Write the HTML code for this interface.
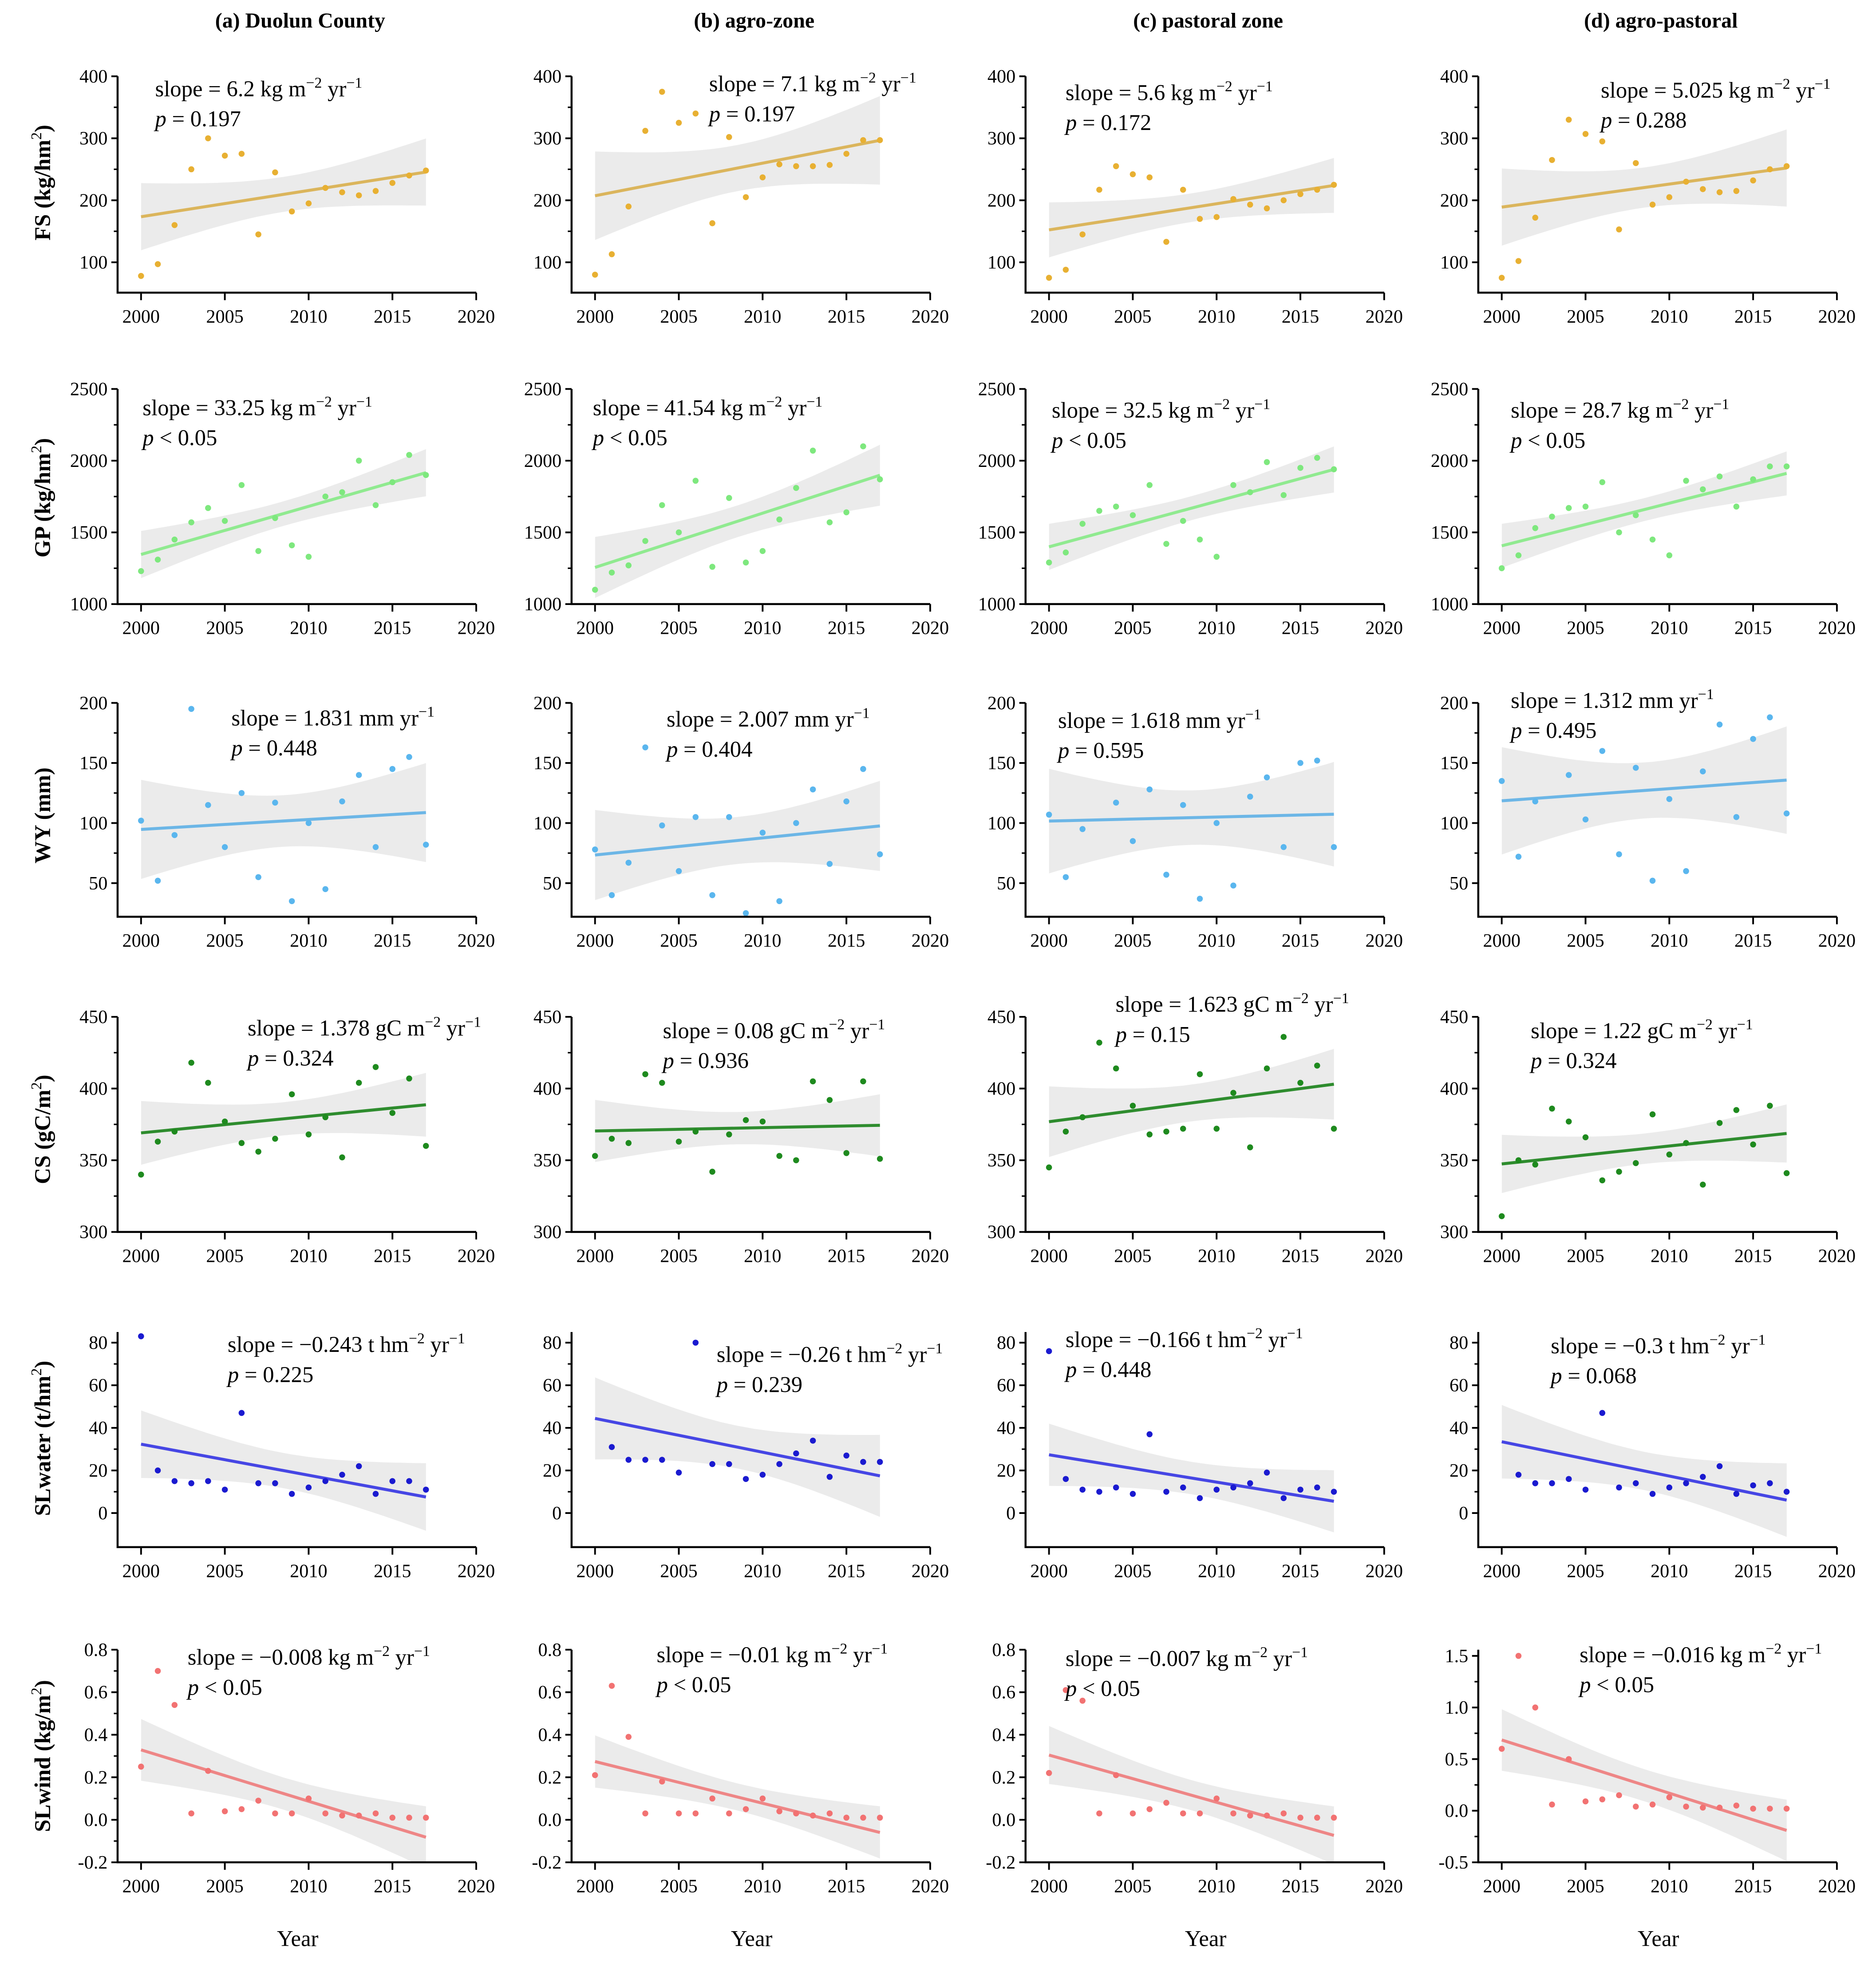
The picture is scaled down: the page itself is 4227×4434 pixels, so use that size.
<!DOCTYPE html>
<html><head><meta charset="utf-8"><style>
html,body{margin:0;padding:0;background:#fff}
svg{display:block}
text{font-family:"Liberation Serif",serif;fill:#000}
</style></head><body>
<svg id="fig" width="4227" height="4434" viewBox="0 0 1500 1573.5" xmlns="http://www.w3.org/2000/svg">
<rect width="1500" height="1573.5" fill="#fff"/>
<g id="root"></g>
</svg>
<script>
const years=[2000,2001,2002,2003,2004,2005,2006,2007,2008,2009,2010,2011,2012,2013,2014,2015,2016,2017];
const xTicks=[2000,2005,2010,2015,2020];
const colTitles=["(a) Duolun County","(b) agro-zone","(c) pastoral zone","(d) agro-pastoral"];
// Row FS
const fsA=[78,97,160,250,300,272,275,145,245,182,195,220,213,208,215,228,240,248];
const fsB=[80,113,190,312,375,325,340,163,302,205,237,258,255,255,257,275,297,297];
const fsC=[75,88,145,217,255,242,237,133,217,170,173,202,193,187,200,210,217,225];
const fsD=[75,102,172,265,330,307,295,153,260,193,205,230,218,213,215,232,250,255];
// Row GP
const gpA=[1230,1310,1450,1570,1670,1580,1830,1370,1600,1410,1330,1750,1780,2000,1690,1850,2040,1900];
const gpB=[1100,1220,1270,1440,1690,1500,1860,1260,1740,1290,1370,1590,1810,2070,1570,1640,2100,1870];
const gpC=[1290,1360,1560,1650,1680,1620,1830,1420,1580,1450,1330,1830,1780,1990,1760,1950,2020,1940];
const gpD=[1250,1340,1530,1610,1670,1680,1850,1500,1620,1450,1340,1860,1800,1890,1680,1870,1960,1960];
// Row WY
const wyA=[102,52,90,195,115,80,125,55,117,35,100,45,118,140,80,145,155,82];
const wyB=[78,40,67,163,98,60,105,40,105,25,92,35,100,128,66,118,145,74];
const wyC=[107,55,95,215,117,85,128,57,115,37,100,48,122,138,80,150,152,80];
const wyD=[135,72,118,212,140,103,160,74,146,52,120,60,143,182,105,170,188,108];
// Row CS
const csA=[340,363,370,418,404,377,362,356,365,396,368,380,352,404,415,383,407,360];
const csB=[353,365,362,410,404,363,370,342,368,378,377,353,350,405,392,355,405,351];
const csC=[345,370,380,432,414,388,368,370,372,410,372,397,359,414,436,404,416,372];
const csD=[311,350,347,386,377,366,336,342,348,382,354,362,333,376,385,361,388,341];
// Row SLwater
const swA=[83,20,15,14,15,11,47,14,14,9,12,15,18,22,9,15,15,11];
const swB=[95,31,25,25,25,19,80,23,23,16,18,23,28,34,17,27,24,24];
const swC=[76,16,11,10,12,9,37,10,12,7,11,12,14,19,7,11,12,10];
const swD=[90,18,14,14,16,11,47,12,14,9,12,14,17,22,9,13,14,10];
// Row SLwind
const slA=[0.25,0.70,0.54,0.03,0.23,0.04,0.05,0.09,0.03,0.03,0.10,0.03,0.02,0.02,0.03,0.01,0.01,0.01];
const slB=[0.21,0.63,0.39,0.03,0.18,0.03,0.03,0.10,0.03,0.05,0.10,0.04,0.03,0.02,0.03,0.01,0.01,0.01];
const slC=[0.22,0.61,0.56,0.03,0.21,0.03,0.05,0.08,0.03,0.03,0.10,0.03,0.02,0.02,0.03,0.01,0.01,0.01];
const slD=[0.60,1.50,1.00,0.06,0.50,0.09,0.11,0.15,0.04,0.06,0.13,0.04,0.03,0.03,0.05,0.02,0.02,0.02];
const ticksFS=[100,200,300,400];
const ticksGP=[1000,1500,2000,2500];
const ticksWY=[50,100,150,200];
const ticksCS=[300,350,400,450];
const ticksSW=[0,20,40,60,80];
const ticksSL=[-0.2,0.0,0.2,0.4,0.6,0.8];
const ticksSLd=[-0.5,0.0,0.5,1.0,1.5];
const slopeFS=["6.2","7.1","5.6","5.025"], pFS=["= 0.197","= 0.197","= 0.172","= 0.288"];
const slopeGP=["33.25","41.54","32.5","28.7 "], pGP=["< 0.05","< 0.05","< 0.05","< 0.05"];
const slopeWY=["1.831","2.007","1.618","1.312"], pWY=["= 0.448","= 0.404","= 0.595","= 0.495"];
const slopeCS=["1.378","0.08","1.623","1.22"], pCS=["= 0.324","= 0.936","= 0.15","= 0.324"];
const slopeSW=[" \u22120.243","\u22120.26","\u22120.166","\u22120.3"], pSW=["= 0.225","= 0.239","= 0.448","= 0.068"];
const slopeSL=["\u22120.008","\u22120.01","\u22120.007","\u22120.016"], pSL=["< 0.05","< 0.05","< 0.05","< 0.05"];

const NS="http://www.w3.org/2000/svg";
const root=document.getElementById('root');
function el(tag,attrs,parent){const e=document.createElementNS(NS,tag);for(const k in attrs)e.setAttribute(k,attrs[k]);(parent||root).appendChild(e);return e;}
const spineX=[94,457,820,1182];
const rows=[
 {name:"fs",label:["FS (kg/hm","2",")"],data:[fsA,fsB,fsC,fsD],ticks:[ticksFS,ticksFS,ticksFS,ticksFS],lim:[[51,400],[51,400],[51,400],[51,400]],pix:[234,61],dec:0,
  dot:"#e8b032",line:"#dbb55c",slope:slopeFS,p:pFS,unit:"kg",u2:true,
  pos:[[124,77],[567,73],[852,80],[1280,78]]},
 {name:"gp",label:["GP (kg/hm","2",")"],data:[gpA,gpB,gpC,gpD],ticks:[ticksGP,ticksGP,ticksGP,ticksGP],lim:[[1000,2500],[1000,2500],[1000,2500],[1000,2500]],pix:[483,311],dec:0,
  dot:"#7ee87e",line:"#90ea90",slope:slopeGP,p:pGP,unit:"kg",u2:true,
  pos:[[114,332],[474,332],[841,334],[1208,334]]},
 {name:"wy",label:["WY (mm)"],data:[wyA,wyB,wyC,wyD],ticks:[ticksWY,ticksWY,ticksWY,ticksWY],lim:[[22,200],[22,200],[22,200],[22,200]],pix:[733,562],dec:0,
  dot:"#5ab6ee",line:"#6cb6e6",slope:slopeWY,p:pWY,unit:"mm",u2:false,
  pos:[[185,580],[533,581],[846,582],[1208,566]]},
 {name:"cs",label:["CS (gC/m","2",")"],data:[csA,csB,csC,csD],ticks:[ticksCS,ticksCS,ticksCS,ticksCS],lim:[[300,450],[300,450],[300,450],[300,450]],pix:[985,813],dec:0,
  dot:"#1e8a1e",line:"#2e8c2e",slope:slopeCS,p:pCS,unit:"gC",u2:true,
  pos:[[198,828],[530,830],[892,809],[1224,830]]},
 {name:"slwater",label:["SLwater (t/hm","2",")"],data:[swA,swB,swC,swD],ticks:[ticksSW,ticksSW,ticksSW,ticksSW],lim:[[-16,85],[-16,85],[-16,85],[-16,85]],pix:[1237,1065],dec:0,
  dot:"#1a1ad0",line:"#4646e4",slope:slopeSW,p:pSW,unit:"t hm",u2:true,
  pos:[[182,1081],[573,1089],[852,1077],[1240,1082]]},
 {name:"slwind",label:["SLwind (kg/m","2",")"],data:[slA,slB,slC,slD],ticks:[ticksSL,ticksSL,ticksSL,ticksSLd],lim:[[-0.2,0.8],[-0.2,0.8],[-0.2,0.8],[-0.5,1.56]],pix:[1489,1319],dec:1,
  dot:"#f27272",line:"#ee8686",slope:slopeSL,p:pSL,unit:"kg",u2:true,
  pos:[[150,1331],[525,1329],[852,1332],[1263,1329]]}
];
const rowCenters=[146,398,652,903,1150,1404];
colTitles.forEach((t,c)=>{
  const e=el('text',{x:spineX[c]+146,y:22,'text-anchor':'middle','font-size':17,'font-weight':'bold'});
  e.textContent=t;
  
  
  const y=el('text',{x:spineX[c]+144,y:1556,'text-anchor':'middle','font-size':18});
  y.textContent="Year";
  
  
});
let cid=0;
rows.forEach((r,ri)=>{
  const lab=el('text',{transform:`translate(40,${rowCenters[ri]}) rotate(-90)`,'text-anchor':'middle','font-size':18,'font-weight':'bold'});
  
  
  const t1=el('tspan',{},lab);t1.textContent=r.label[0];
  if(r.label.length>1){const t2=el('tspan',{dy:-7,'font-size':12,'font-weight':'normal'},lab);t2.textContent=r.label[1];const t3=el('tspan',{dy:7},lab);t3.textContent=r.label[2];}
  for(let c=0;c<4;c++){
    const g=el('g',{});
    
    
    const data=r.data[c], lim=r.lim[c], [pb,pt]=r.pix;
    const x0=spineX[c];
    const xs=v=>x0+(v-1998.6)*13.4;
    const ys=v=>pb-(v-lim[0])/(lim[1]-lim[0])*(pb-pt);
    const right=xs(2020);
    cid++;
    const cp=el('clipPath',{id:'cp'+cid},g);
    el('rect',{x:x0,y:pt-4,width:right-x0+4,height:pb-pt+4},cp);
    const n=years.length;const mx=years.reduce((a,b)=>a+b)/n;const my=data.reduce((a,b)=>a+b)/n;
    let sxx=0,sxy=0;for(let i=0;i<n;i++){sxx+=(years[i]-mx)**2;sxy+=(years[i]-mx)*(data[i]-my);}
    const b=sxy/sxx,a=my-b*mx;
    let sse=0;for(let i=0;i<n;i++)sse+=(data[i]-a-b*years[i])**2;
    const s=Math.sqrt(sse/(n-2));
    let up=[],lo=[];
    for(let k=0;k<=34;k++){const x=2000+k*0.5;const h=2.12*s*Math.sqrt(1/n+(x-mx)**2/sxx);const m=a+b*x;up.push(`${xs(x).toFixed(1)},${ys(m+h).toFixed(1)}`);lo.unshift(`${xs(x).toFixed(1)},${ys(m-h).toFixed(1)}`);}
    const band=el('polygon',{points:up.concat(lo).join(' '),fill:'#ebebeb','clip-path':`url(#cp${cid})`},g);
    
    
    const ln=el('line',{x1:xs(2000),y1:ys(a+b*2000),x2:xs(2017),y2:ys(a+b*2017),stroke:r.line,'stroke-width':2.4,'clip-path':`url(#cp${cid})`},g);
    
    
    data.forEach((v,i)=>{
      const d=el('circle',{cx:xs(years[i]),cy:ys(v),r:2.4,fill:r.dot,'clip-path':`url(#cp${cid})`},g);
      
      
    });
    const ax=el('path',{d:`M${x0},${pt} V${pb} H${right}`,fill:'none',stroke:'#000','stroke-width':1.6},g);
    
    
    r.ticks[c].forEach(t=>{
      const y=ys(t);
      el('line',{x1:x0-5,y1:y,x2:x0,y2:y,stroke:'#000','stroke-width':1.4},g);
      const tl=el('text',{x:x0-8,y:y+5,'text-anchor':'end','font-size':15},g);
      tl.textContent=t.toFixed(r.dec);
      
      
    });
    const tk=r.ticks[c];
    for(let i=0;i<tk.length-1;i++){const y=ys((tk[i]+tk[i+1])/2);el('line',{x1:x0-3,y1:y,x2:x0,y2:y,stroke:'#000','stroke-width':1.2},g);}
    xTicks.forEach(t=>{
      const x=xs(t);
      el('line',{x1:x,y1:pb,x2:x,y2:pb+6,stroke:'#000','stroke-width':1.4},g);
      const tl=el('text',{x:x,y:pb+24,'text-anchor':'middle','font-size':15},g);
      tl.textContent=t;
      
      
    });
    const [tx,ty]=r.pos[c];
    const st=el('text',{x:tx,y:ty,'font-size':18},g);
    
    
    let s1=el('tspan',{},st);
    if(r.u2){
      s1.textContent=`slope = ${r.slope[c]} ${r.unit} m`;
      if(r.unit==="t hm") s1.textContent=`slope = ${r.slope[c]} t hm`;
      const sp=el('tspan',{dy:-7,'font-size':12},st);sp.textContent="\u22122";
      const s2=el('tspan',{dy:7},st);s2.textContent=" yr";
    } else {
      s1.textContent=`slope = ${r.slope[c]} mm yr`;
    }
    const sp2=el('tspan',{dy:-7,'font-size':12},st);sp2.textContent="\u22121";
    const pt2=el('text',{x:tx,y:ty+24,'font-size':18},g);
    
    
    const pi=el('tspan',{'font-style':'italic'},pt2);pi.textContent="p";
    const pv=el('tspan',{},pt2);pv.textContent=" "+r.p[c];
  }
});
</script>
</body></html>
